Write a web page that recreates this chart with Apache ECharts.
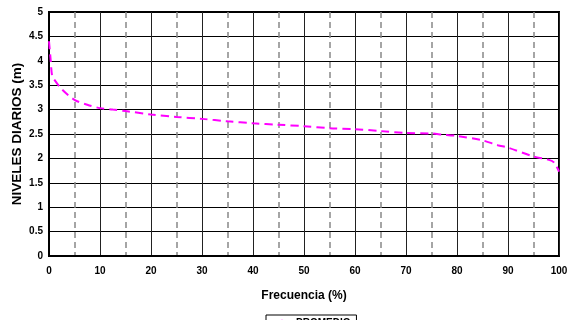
<!DOCTYPE html>
<html>
<head>
<meta charset="utf-8">
<script src="https://cdn.jsdelivr.net/npm/echarts@6/dist/echarts.min.js"></script>
<style>
html,body{margin:0;padding:0;background:#fff;}
#chart{width:569px;height:320px;}
</style>
</head>
<body>
<div id="chart"></div>
<script>
// Frequency (%) and daily water level (m) of the duration curve
const frecuencia = [0, 0.3, 0.6, 1, 2.5, 5, 7.5, 10, 12.5, 15, 20, 25, 30, 35, 40, 45, 50, 55, 60, 65, 70, 75, 77, 80, 85, 88, 90, 95, 98, 99, 100];
const niveles    = [4.40, 4.05, 3.70, 3.62, 3.42, 3.20, 3.10, 3.03, 3.00, 2.97, 2.90, 2.85, 2.81, 2.76, 2.72, 2.69, 2.66, 2.62, 2.60, 2.56, 2.52, 2.51, 2.49, 2.46, 2.37, 2.27, 2.22, 2.04, 1.97, 1.92, 1.73];
const serieNombre = 'PROMEDIO';

const fontLabel = '"Liberation Sans", Arial, sans-serif';

const chart = echarts.init(document.getElementById('chart'), null, {renderer: 'canvas'});
chart.setOption({
  animation: false,
  grid: {
    left: 49, right: 10, top: 12, bottom: 64,
    outerBoundsMode: 'none',
    show: true, borderColor: '#000', borderWidth: 2, backgroundColor: '#fff'
  },
  legend: {
    show: true,
    left: 266, top: 315,
    data: [serieNombre],
    borderColor: '#000', borderWidth: 1, padding: [3, 6],
    itemWidth: 18, itemHeight: 8,
    textStyle: {fontFamily: fontLabel, fontWeight: 'bold', fontSize: 10, color: '#000'}
  },
  xAxis: {
    type: 'value', min: 0, max: 100, interval: 10,
    name: 'Frecuencia (%)', nameLocation: 'middle', nameGap: 34,
    nameMoveOverlap: false,
    nameTextStyle: {fontFamily: fontLabel, fontSize: 12, color: '#000', fontWeight: 'bold'},
    axisLine: {show: true, lineStyle: {color: '#000', width: 2}},
    axisTick: {show: false},
    axisLabel: {fontFamily: fontLabel, fontWeight: 'bold', fontSize: 10, color: '#000', margin: 10},
    splitLine: {show: true, lineStyle: {color: '#222', width: 1}},
    minorTick: {show: false, splitNumber: 2},
    minorSplitLine: {show: true, lineStyle: {color: '#888', width: 1.5, type: [6, 4]}}
  },
  yAxis: {
    type: 'value', min: 0, max: 5, interval: 0.5,
    name: 'NIVELES DIARIOS (m)', nameLocation: 'middle', nameGap: 25, nameRotate: 90,
    nameMoveOverlap: false,
    nameTextStyle: {fontFamily: fontLabel, fontSize: 13.5, fontWeight: 'bold', color: '#000'},
    axisLine: {show: true, lineStyle: {color: '#000', width: 2}},
    axisTick: {show: false},
    axisLabel: {fontFamily: fontLabel, fontWeight: 'bold', fontSize: 10, color: '#000', margin: 6},
    splitLine: {show: true, lineStyle: {color: '#000', width: 1}}
  },
  series: [{
    name: serieNombre,
    type: 'line',
    data: frecuencia.map((f, i) => [f, niveles[i]]),
    smooth: 0.3,
    symbol: 'none',
    lineStyle: {color: '#ff00ff', width: 2, type: [8, 5]},
    itemStyle: {color: '#ff00ff'}
  }]
});
</script>
</body>
</html>
